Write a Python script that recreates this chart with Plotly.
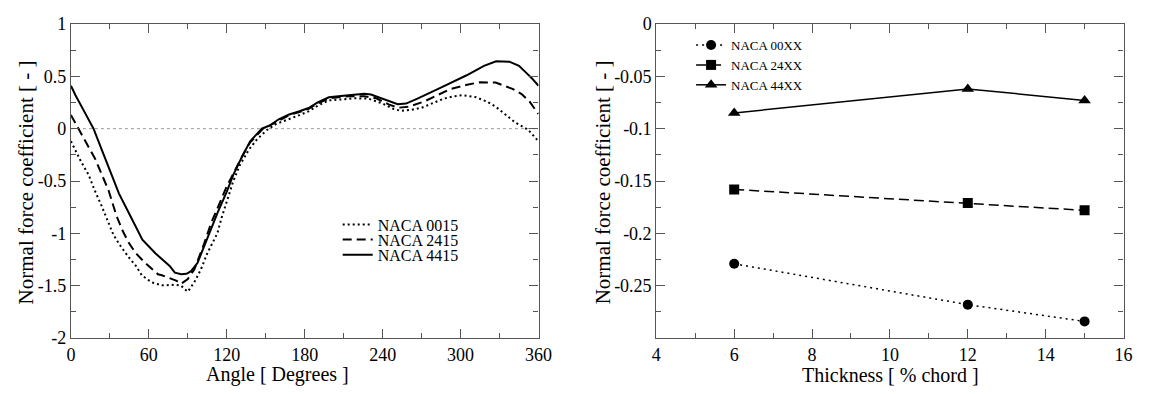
import plotly.graph_objects as go

# ---------------- Left panel data: normal force coefficient vs angle ----------------
ang_0015 = [0, 3.5, 8, 13.6, 18, 23.7, 28, 32.6, 37, 44, 50, 54.6, 62, 70, 80, 85, 87, 90, 95, 100,
            105, 112.7, 116, 120, 125, 130, 137, 143, 150.6, 158, 168, 176, 183, 190, 198.6, 210,
            218.7, 229, 240, 248, 254, 262, 270, 287, 295, 302, 312, 320, 327, 335, 342, 352, 356, 360]
cn_0015 = [-0.12, -0.21, -0.32, -0.44, -0.58, -0.74, -0.88, -1.01, -1.10, -1.22, -1.31, -1.40, -1.466,
           -1.496, -1.49, -1.50, -1.526, -1.556, -1.466, -1.345, -1.19, -1.0, -0.85, -0.70, -0.50,
           -0.35, -0.20, -0.106, -0.015, 0.045, 0.09, 0.13, 0.166, 0.22, 0.27, 0.285, 0.29, 0.287,
           0.24, 0.19, 0.17, 0.18, 0.20, 0.287, 0.31, 0.32, 0.30, 0.26, 0.21, 0.13, 0.06, -0.01,
           -0.06, -0.12]

ang_2415 = [0, 6, 12, 18.7, 24, 29, 35, 40, 44.5, 50, 57, 67, 70, 77, 81, 85, 90, 95, 100, 102.5,
            108, 114, 120, 125, 132, 138, 148, 153, 160, 168, 176, 183, 190, 198.6, 213.7, 226, 235,
            245, 252, 260, 272, 292, 305, 315, 327, 340, 347, 353, 360]
cn_2415 = [0.13, 0.0, -0.14, -0.29, -0.44, -0.59, -0.83, -0.98, -1.09, -1.19, -1.28, -1.39, -1.40,
           -1.435, -1.45, -1.48, -1.435, -1.345, -1.19, -1.10, -0.90, -0.72, -0.55, -0.43, -0.26,
           -0.13, 0.0, 0.03, 0.08, 0.13, 0.16, 0.19, 0.24, 0.29, 0.31, 0.31, 0.29, 0.23, 0.20, 0.21,
           0.26, 0.378, 0.42, 0.444, 0.44, 0.38, 0.33, 0.26, 0.14]

ang_4415 = [0, 3.5, 10, 17.4, 24, 31, 37, 44, 51.5, 55, 65, 73.5, 76, 80, 85, 89, 92.5, 97.5, 105,
            113, 120, 125, 132, 138, 147, 153, 160, 168, 176, 183, 190, 198.6, 213.7, 226, 231, 242,
            251.6, 258, 266.8, 284.4, 304.7, 318, 327.4, 337.5, 345, 350, 355, 360]
cn_4415 = [0.41, 0.32, 0.17, 0.0, -0.21, -0.44, -0.62, -0.79, -0.98, -1.06, -1.19, -1.29, -1.31,
           -1.375, -1.39, -1.385, -1.36, -1.28, -1.04, -0.80, -0.60, -0.44, -0.26, -0.12, 0.0, 0.03,
           0.09, 0.136, 0.166, 0.197, 0.25, 0.30, 0.32, 0.333, 0.326, 0.28, 0.233, 0.24, 0.287,
           0.39, 0.51, 0.60, 0.644, 0.64, 0.60, 0.54, 0.48, 0.41]

# ---------------- Right panel data: normal force coefficient vs thickness ----------------
thickness = [6, 12, 15]
cn_00xx = [-0.229, -0.268, -0.284]
cn_24xx = [-0.158, -0.171, -0.178]
cn_44xx = [-0.085, -0.062, -0.073]

# ---------------- Tick labels ----------------
left_xticks = [0, 60, 120, 180, 240, 300, 360]
left_xtext = ["0", "60", "120", "180", "240", "300", "360"]
left_yticks = [-2, -1.5, -1, -0.5, 0, 0.5, 1]
left_ytext = ["-2", "-1.5", "-1", "-0.5", "0", "0.5", "1"]
right_xticks = [4, 6, 8, 10, 12, 14, 16]
right_xtext = ["4", "6", "8", "10", "12", "14", "16"]
right_yticks = [-0.25, -0.2, -0.15, -0.1, -0.05, 0]
right_ytext = ["-0.25", "-0.2", "-0.15", "-0.1", "-0.05", "0"]

FONT = "Liberation Serif"
W, H = 1151, 394
FRAME = "#555555"

fig = go.Figure()

fig.add_trace(go.Scatter(x=ang_0015, y=cn_0015, mode="lines", name="NACA 0015",
                         line=dict(color="black", width=2, dash="2px,3px"),
                         xaxis="x", yaxis="y", legend="legend"))
fig.add_trace(go.Scatter(x=ang_2415, y=cn_2415, mode="lines", name="NACA 2415",
                         line=dict(color="black", width=2, dash="9px,5px"),
                         xaxis="x", yaxis="y", legend="legend2"))
fig.add_trace(go.Scatter(x=ang_4415, y=cn_4415, mode="lines", name="NACA 4415",
                         line=dict(color="black", width=2),
                         xaxis="x", yaxis="y", legend="legend3"))

fig.add_trace(go.Scatter(x=thickness, y=cn_00xx, mode="lines+markers", name="NACA 00XX",
                         line=dict(color="black", width=1.5, dash="2px,4px"),
                         marker=dict(symbol="circle", size=10, color="black"),
                         xaxis="x2", yaxis="y2", legend="legend4"))
fig.add_trace(go.Scatter(x=thickness, y=cn_24xx, mode="lines+markers", name="NACA 24XX",
                         line=dict(color="black", width=1.5, dash="10px,5px"),
                         marker=dict(symbol="square", size=10, color="black"),
                         xaxis="x2", yaxis="y2", legend="legend4"))
fig.add_trace(go.Scatter(x=thickness, y=cn_44xx, mode="lines+markers", name="NACA 44XX",
                         line=dict(color="black", width=1.5),
                         marker=dict(symbol="triangle-up", size=11, color="black"),
                         xaxis="x2", yaxis="y2", legend="legend4"))

# zero reference line in left panel
fig.add_shape(type="line", xref="x domain", yref="y", x0=0, x1=1, y0=0, y1=0,
              line=dict(color="#999999", width=1, dash="dot"), layer="below")

ydom = [(H - 345.7) / H, (H - 14.7) / H]
tickfont = dict(family=FONT, size=18, color="black")


def axis_common(**kw):
    d = dict(showline=True, linecolor=FRAME, linewidth=1.2, mirror="allticks",
             ticks="inside", ticklen=9, tickcolor=FRAME, tickwidth=1.2,
             showgrid=False, zeroline=False, tickfont=tickfont, tickmode="array")
    d.update(kw)
    return d


fig.update_layout(
    width=W, height=H, autosize=False, margin=dict(l=0, r=0, t=0, b=0),
    paper_bgcolor="white", plot_bgcolor="white",
    font=dict(family=FONT, color="black"),
    xaxis=axis_common(domain=[68 / W, 543 / W], range=[0, 360], anchor="y",
                      tickvals=left_xticks, ticktext=left_xtext,
                      minor=dict(tickmode="linear", tick0=0, dtick=30, ticklen=5,
                                 tickcolor=FRAME, tickwidth=1.2, ticks="inside")),
    yaxis=axis_common(domain=ydom, range=[-2, 1], anchor="x",
                      tickvals=left_yticks, ticktext=left_ytext,
                      minor=dict(tickmode="linear", tick0=0, dtick=0.25, ticklen=5,
                                 tickcolor=FRAME, tickwidth=1.2, ticks="inside")),
    xaxis2=axis_common(domain=[662.7 / W, 1137.3 / W], range=[4, 16], anchor="y2",
                       tickvals=right_xticks, ticktext=right_xtext,
                       minor=dict(tickmode="linear", tick0=0, dtick=1, ticklen=5,
                                  tickcolor=FRAME, tickwidth=1.2, ticks="inside")),
    yaxis2=axis_common(domain=ydom, range=[-0.3, 0], anchor="x2",
                       tickvals=right_yticks, ticktext=right_ytext,
                       minor=dict(tickmode="linear", tick0=0, dtick=0.025, ticklen=5,
                                  tickcolor=FRAME, tickwidth=1.2, ticks="inside")),
    showlegend=True,
)

leg_common = dict(bgcolor="rgba(0,0,0,0)", borderwidth=0, xanchor="left", yanchor="middle",
                  font=dict(family=FONT, size=16, color="black"), itemwidth=30)
fig.update_layout(
    legend=dict(leg_common, x=339 / W, y=(H - 226) / H),
    legend2=dict(leg_common, x=339 / W, y=(H - 242) / H),
    legend3=dict(leg_common, x=339 / W, y=(H - 258) / H),
    legend4=dict(bgcolor="rgba(0,0,0,0)", borderwidth=0, xanchor="left", yanchor="middle",
                 x=698 / W, y=(H - 58) / H, tracegroupgap=0,
                 font=dict(family=FONT, size=13, color="black"), itemwidth=30),
)

title_font = dict(family=FONT, size=20, color="black")
fig.add_annotation(text="Angle [ Degrees ]", x=278 / W, y=(H - 384) / H, xref="paper", yref="paper",
                   showarrow=False, font=title_font, xanchor="center", yanchor="middle")
fig.add_annotation(text="Thickness [ % chord ]", x=901 / W, y=(H - 384) / H, xref="paper", yref="paper",
                   showarrow=False, font=title_font, xanchor="center", yanchor="middle")
fig.add_annotation(text="Normal force coefficient [ - ]", x=22 / W, y=(H - 182) / H, xref="paper",
                   yref="paper", showarrow=False, font=dict(title_font, size=21), textangle=-90,
                   xanchor="center", yanchor="middle")
fig.add_annotation(text="Normal force coefficient [ - ]", x=608 / W, y=(H - 181) / H, xref="paper",
                   yref="paper", showarrow=False, font=dict(title_font, size=21), textangle=-90,
                   xanchor="center", yanchor="middle")

post = (
    "document.documentElement.style.margin='0';"
    "document.documentElement.style.overflow='hidden';"
    "document.body.style.margin='0';"
    "document.body.style.overflow='hidden';"
    "var gd=document.getElementById('{plot_id}');"
    "gd.style.width='1151px';gd.style.height='394px';"
    "Plotly.relayout(gd,{autosize:false,width:1151,height:394});"
)
fig.write_html("out.html", post_script=post,
               config={"responsive": False, "displayModeBar": False})
